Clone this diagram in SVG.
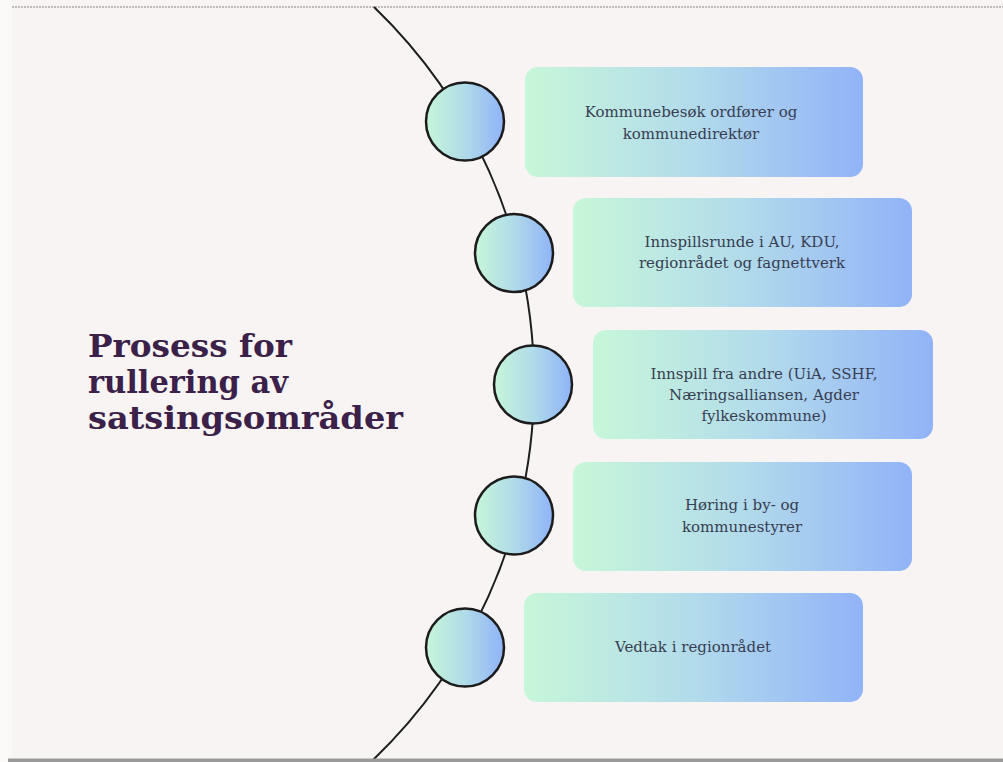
<svg xmlns="http://www.w3.org/2000/svg" width="1003" height="762" viewBox="0 0 1003 762">
  <defs>
    <linearGradient id="boxGrad" x1="0" y1="0" x2="1" y2="0">
      <stop offset="0" stop-color="#c7f7d9"/>
      <stop offset="0.5" stop-color="#b2dbeb"/>
      <stop offset="1" stop-color="#91b3f8"/>
    </linearGradient>
    <linearGradient id="circGrad" x1="0" y1="0" x2="1" y2="0">
      <stop offset="0" stop-color="#c6f6d8"/>
      <stop offset="0.5" stop-color="#b0dbe9"/>
      <stop offset="1" stop-color="#8fb3f8"/>
    </linearGradient>
    <style>
      .box { fill: url(#boxGrad); }
      .node { fill: url(#circGrad); stroke: #1c1c1c; stroke-width: 2.5; }
      .lbl { font-family: "DejaVu Serif", "Liberation Serif", serif; font-size: 15px; fill: #383d52; text-anchor: middle; }
      .title { font-family: "DejaVu Serif", "Liberation Serif", serif; font-size: 32px; font-weight: bold; fill: #3b2149; }
      .arc { fill: none; stroke: #1e1e1e; stroke-width: 2; }
    </style>
  </defs>

  <rect x="0" y="0" width="1003" height="762" fill="#f8f4f3"/>
  <rect x="0" y="0" width="12" height="762" fill="#fbf9f8"/>
  <line x1="12" y1="7" x2="1003" y2="7" stroke="#a8a8a8" stroke-width="1.5" stroke-dasharray="2 1"/>

  <g id="connectors">
    <path class="arc" d="M374,7 A521.7,521.7 0 0 1 373,760"/>
  </g>

  <g id="title">
    <text class="title" x="88" y="357" textLength="204" lengthAdjust="spacingAndGlyphs">Prosess for</text>
    <text class="title" x="88" y="393" textLength="200" lengthAdjust="spacingAndGlyphs">rullering av</text>
    <text class="title" x="88" y="429" textLength="315" lengthAdjust="spacingAndGlyphs">satsingsområder</text>
  </g>

  <g id="step1">
    <rect class="box" x="525" y="67" width="338" height="110" rx="13"/>
    <circle class="node" cx="465" cy="121.5" r="39"/>
    <text class="lbl" x="691" y="117">Kommunebesøk ordfører og</text>
    <text class="lbl" x="691" y="139">kommunedirektør</text>
  </g>

  <g id="step2">
    <rect class="box" x="573" y="198" width="339" height="109" rx="13"/>
    <circle class="node" cx="514" cy="253" r="39"/>
    <text class="lbl" x="742" y="247">Innspillsrunde i AU, KDU,</text>
    <text class="lbl" x="742" y="268">regionrådet og fagnettverk</text>
  </g>

  <g id="step3">
    <rect class="box" x="593" y="330" width="340" height="109" rx="13"/>
    <circle class="node" cx="533" cy="384.5" r="39"/>
    <text class="lbl" x="764" y="379">Innspill fra andre (UiA, SSHF,</text>
    <text class="lbl" x="764" y="400">Næringsalliansen, Agder</text>
    <text class="lbl" x="764" y="421">fylkeskommune)</text>
  </g>

  <g id="step4">
    <rect class="box" x="573" y="462" width="339" height="109" rx="13"/>
    <circle class="node" cx="514" cy="515.5" r="39"/>
    <text class="lbl" x="742" y="510">Høring i by- og</text>
    <text class="lbl" x="742" y="532">kommunestyrer</text>
  </g>

  <g id="step5">
    <rect class="box" x="524" y="593" width="339" height="109" rx="13"/>
    <circle class="node" cx="465" cy="647.5" r="39"/>
    <text class="lbl" x="693" y="652">Vedtak i regionrådet</text>
  </g>

  <rect x="8" y="758.5" width="995" height="3.5" fill="#9a9a9a"/>
</svg>
